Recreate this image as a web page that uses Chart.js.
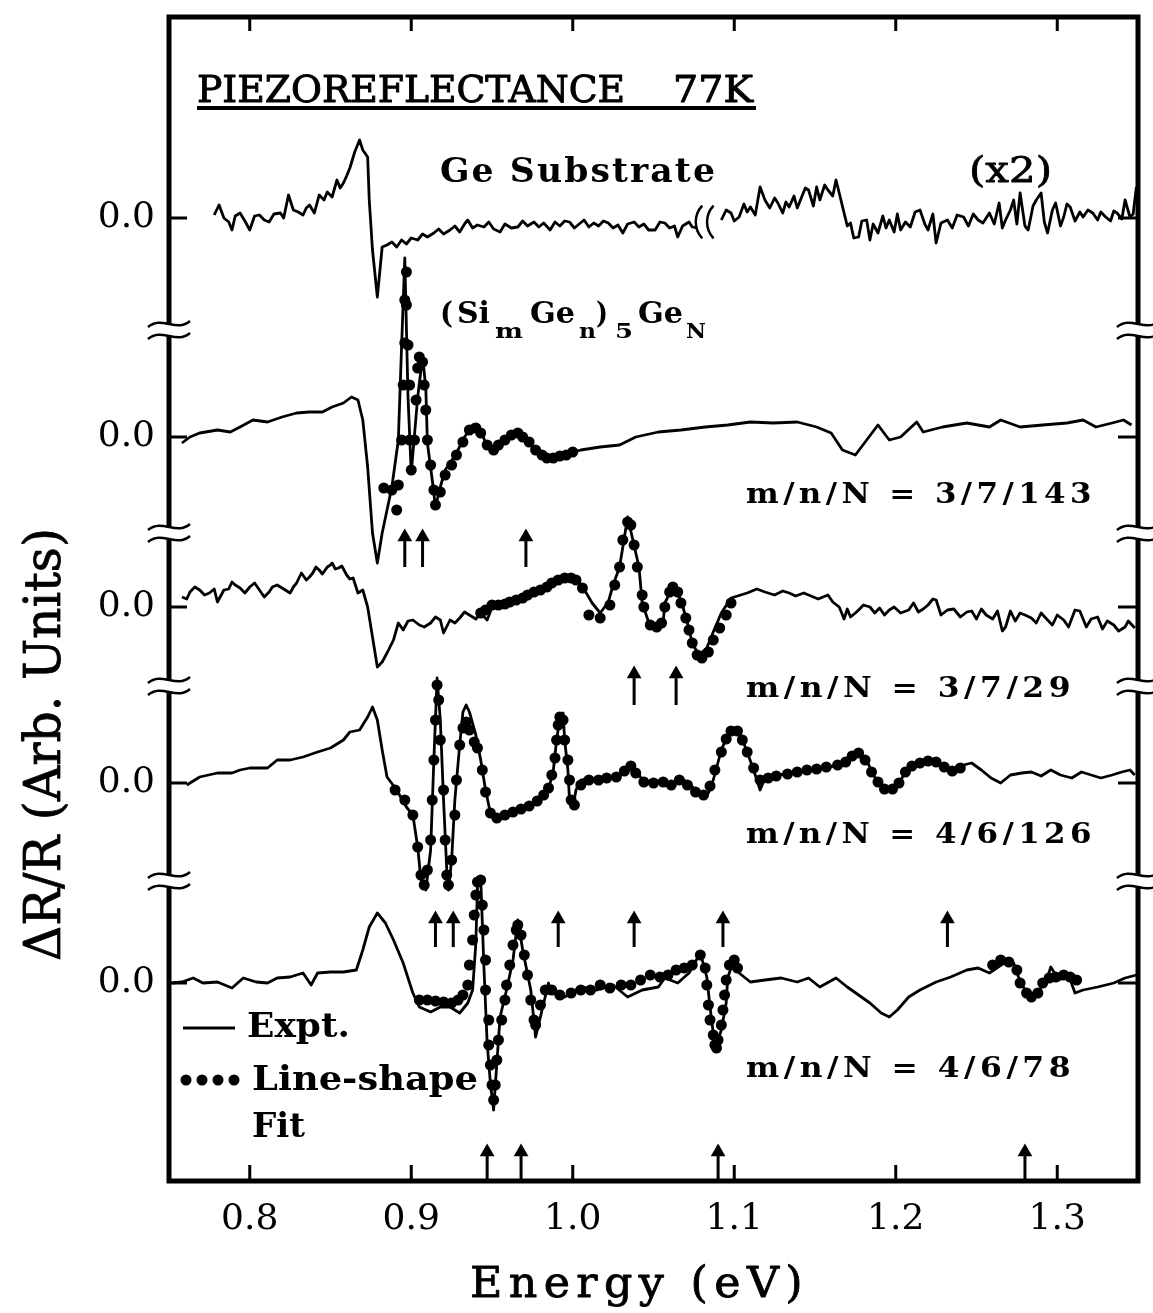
<!DOCTYPE html>
<html><head><meta charset="utf-8">
<script src="https://cdn.jsdelivr.net/npm/chart.js@4.4.1/dist/chart.umd.min.js"></script>
<style>html,body{margin:0;padding:0;background:#fff;}canvas{display:block;}</style>
</head><body>
<canvas id="c" width="1153" height="1313"></canvas>
<script>
// ---------- axis settings ----------
const xTicks = [0.8, 0.9, 1.0, 1.1, 1.2, 1.3];
const offsets = [963, 744, 574, 398, 198];          // zero level of each spectrum (arb. units)
const axisBreaks = [851, 648, 495, 300];            // axis break marks (arb. units)
const subBreakE = [1.0805, 1.0875];                 // break in the Ge substrate trace (eV)

// ---------- Ge substrate (x2) ----------
const s1E = [0.778,0.781,0.784,0.787,0.789,0.791,0.794,0.797,0.800,0.803,0.806,0.809,0.812,0.815,0.819,0.821,0.824,0.827,0.830,0.833,0.835,0.837,0.840,0.843,0.846,0.848,0.851,0.854,0.856,0.858,0.860,0.862,0.865,0.868,0.870,0.873,0.874,0.876,0.879,0.882,0.885,0.888,0.891,0.894,0.897,0.900,0.904,0.907,0.910,0.914,0.917,0.920,0.924,0.927,0.930,0.933,0.935,0.938,0.941,0.945,0.948,0.951,0.955,0.958,0.962,0.966,0.969,0.972,0.976,0.979,0.982,0.986,0.989,0.992,0.995,0.998,1.001,1.004,1.007,1.010,1.013,1.016,1.019,1.022,1.025,1.028,1.031,1.034,1.038,1.041,1.044,1.047,1.051,1.054,1.057,1.060,1.063,1.065,1.068,1.072,1.074,1.077,
  1.085,
  1.092,1.095,1.098,1.100,1.103,1.106,1.108,1.110,1.113,1.116,1.119,1.122,1.125,1.127,1.130,1.132,1.134,1.137,1.139,1.141,1.144,1.146,1.149,1.151,1.153,1.156,1.158,1.161,1.163,1.165,1.168,1.170,1.172,1.174,1.177,1.179,1.182,1.184,1.186,1.189,1.192,1.194,1.196,1.199,1.201,1.203,1.206,1.209,1.212,1.215,1.218,1.220,1.223,1.225,1.228,1.232,1.235,1.238,1.242,1.245,1.248,1.251,1.254,1.258,1.261,1.264,1.266,1.268,1.271,1.273,1.275,1.277,1.280,1.282,1.285,1.287,1.290,1.292,1.294,1.297,1.299,1.302,1.304,1.306,1.308,1.311,1.314,1.316,1.319,1.322,1.325,1.327,1.330,1.333,1.335,1.337,1.340,1.342,1.345,1.347,1.349];
const s1R = [3,13,0,-4,-12,2,5,-3,-12,2,3,-2,-4,4,5,0,23,8,6,3,10,13,5,23,18,26,21,38,30,35,42,50,66,78,68,61,18,-32,-79,-29,-27,-24,-29,-22,-26,-20,-22,-16,-19,-15,-11,-16,-12,-8,-14,-6,-2,-10,-7,-9,-4,-11,-14,-6,-10,-9,-3,-8,-4,-9,-5,-12,-4,-8,-3,-4,-10,-6,-2,-9,-5,-8,-3,-5,-10,-7,-15,-6,-4,-9,-6,-12,-12,-4,-5,-10,-8,-19,-8,-4,-9,-10,
  null,
  -2,8,5,-3,1,14,6,11,3,31,18,10,20,15,5,16,11,22,10,18,30,28,12,31,18,33,28,22,38,25,5,-8,-5,-20,-19,-3,-2,-22,-6,-15,2,-10,-2,-14,4,-12,-4,-9,6,8,-6,-12,4,-25,-5,-2,-10,3,1,-8,4,-2,-5,5,-6,15,-10,-2,8,18,-6,25,-8,-12,12,18,25,-4,-15,8,15,-8,1,14,11,-3,6,1,8,5,-2,6,1,-3,7,5,-1,18,1,4,31];

// ---------- m/n/N = 3/7/143 ----------
const s2E = [0.758,0.763,0.769,0.780,0.788,0.794,0.802,0.811,0.820,0.829,0.837,0.845,0.851,0.858,0.863,0.867,0.870,0.873,0.876,0.879,0.882,0.885,0.888,0.892,0.894,0.896,0.898,0.900,0.904,0.907,0.909,0.910,0.913,0.915,0.918,0.921,0.924,0.928,0.933,0.938,0.943,0.947,0.951,0.957,0.966,0.972,0.978,0.986,0.995,1.005,1.017,1.029,1.039,1.053,1.067,1.082,1.096,1.110,1.124,1.139,1.151,1.160,1.167,1.175,1.182,1.189,1.196,1.203,1.213,1.217,1.229,1.244,1.258,1.265,1.277,1.291,1.306,1.316,1.324,1.334,1.341,1.346];
const s2R = [-6,0,4,7,5,10,17,15,20,24,25,25,30,34,40,37,17,-30,-96,-126,-96,-73,-50,-3,90,179,40,-36,40,80,50,-6,-43,-70,-50,-33,-26,-16,0,12,7,-10,-13,-3,4,-3,-16,-21,-18,-13,-10,-8,0,5,7,10,12,15,14,15,10,4,-13,-18,-3,12,-3,0,15,5,10,14,10,17,10,12,14,17,10,14,17,12];
const f2E = [0.883,0.888,0.891,0.892,0.894,0.895,0.896,0.896,0.897,0.897,0.898,0.899,0.899,0.900,0.902,0.903,0.904,0.905,0.907,0.908,0.909,0.910,0.912,0.914,0.915,0.918,0.921,0.925,0.928,0.932,0.936,0.940,0.943,0.947,0.951,0.954,0.958,0.962,0.966,0.969,0.973,0.977,0.981,0.984,0.988,0.992,0.996,1.000];
const f2R = [-51,-53,-73,-48,-3,52,94,137,165,132,92,52,-3,-33,-3,37,69,80,75,52,27,-3,-28,-53,-68,-55,-38,-28,-18,-5,7,9,4,-8,-13,-8,-3,2,4,0,-5,-13,-18,-21,-21,-19,-18,-15];
const arr2E = [0.896, 0.907, 0.971];

// ---------- m/n/N = 3/7/29 ----------
const s3E = [0.758,0.761,0.763,0.766,0.769,0.772,0.775,0.778,0.780,0.784,0.787,0.789,0.791,0.794,0.797,0.800,0.803,0.806,0.809,0.812,0.814,0.817,0.820,0.823,0.825,0.827,0.829,0.832,0.835,0.837,0.839,0.841,0.843,0.845,0.848,0.850,0.851,0.853,0.855,0.857,0.860,0.862,0.864,0.867,0.870,0.873,0.876,0.879,0.882,0.885,0.889,0.892,0.895,0.898,0.901,0.905,0.908,0.912,0.915,0.918,0.920,0.924,0.927,0.930,0.933,0.936,0.940,0.943,0.947,0.951,0.957,0.963,0.969,0.976,0.982,0.986,0.995,1.003,1.008,1.012,1.017,1.022,1.025,1.029,1.034,1.041,1.043,1.048,1.056,1.057,1.062,1.067,1.071,1.074,1.078,1.083,1.087,1.092,1.098,1.108,1.114,1.119,1.125,1.130,1.134,1.138,1.143,1.149,1.152,1.158,1.161,1.165,1.168,1.170,1.172,1.175,1.177,1.180,1.184,1.187,1.190,1.193,1.196,1.199,1.203,1.208,1.211,1.214,1.217,1.220,1.223,1.225,1.228,1.232,1.236,1.240,1.244,1.247,1.250,1.253,1.256,1.260,1.263,1.266,1.268,1.271,1.274,1.277,1.280,1.284,1.287,1.290,1.294,1.297,1.300,1.304,1.307,1.311,1.314,1.318,1.321,1.325,1.328,1.331,1.335,1.338,1.342,1.344,1.348];
const s3R = [10,8,15,20,17,12,14,18,5,17,18,25,22,19,14,20,24,17,10,15,20,22,19,16,14,20,24,34,27,30,34,40,37,33,40,42,44,38,39,41,32,28,29,14,17,0,-30,-60,-55,-46,-33,-16,-23,-14,-13,-18,-20,-16,-10,-13,-26,-13,-16,-11,-5,-8,-12,-6,-13,4,0,7,10,15,17,25,30,27,15,4,-6,5,22,40,90,40,4,-20,-16,4,20,7,-16,-36,-48,-41,-25,-6,9,14,18,15,12,16,14,11,14,10,8,12,5,0,-12,-2,-10,-6,-3,2,0,-6,-1,-8,-3,0,-6,-3,4,-5,-2,2,8,7,-8,-3,-2,-10,-5,-4,-12,-2,-8,-12,-4,-24,-20,-4,-14,-6,-8,-11,-16,-6,-13,-18,-8,-13,-20,-3,-4,-20,-12,-10,-22,-14,-18,-24,-20,-14,-21];
const f3E = [0.943,0.946,0.950,0.954,0.958,0.961,0.965,0.969,0.972,0.976,0.980,0.984,0.987,0.991,0.995,0.999,1.002,1.006,1.010,1.017,1.023,1.026,1.029,1.031,1.034,1.036,1.038,1.040,1.043,1.044,1.048,1.052,1.055,1.057,1.060,1.062,1.065,1.067,1.070,1.072,1.074,1.077,1.080,1.084,1.087,1.091,1.095,1.098];
const f3R = [-6,-3,2,2,3,5,7,9,12,15,17,20,24,27,29,29,27,19,-8,-11,2,22,40,67,85,82,62,40,12,0,-18,-20,-16,0,15,20,15,4,-11,-23,-36,-48,-51,-45,-33,-21,-8,4];
const arr3E = [1.038, 1.064];

// ---------- m/n/N = 4/6/126 ----------
const s4E = [0.761,0.769,0.780,0.789,0.794,0.800,0.811,0.817,0.825,0.833,0.842,0.850,0.858,0.862,0.868,0.873,0.876,0.879,0.882,0.885,0.891,0.897,0.901,0.904,0.906,0.909,0.912,0.914,0.916,0.918,0.920,0.922,0.923,0.925,0.927,0.930,0.932,0.934,0.936,0.940,0.943,0.946,0.949,0.953,0.957,0.961,0.966,0.972,0.977,0.981,0.985,0.988,0.990,0.992,0.994,0.995,0.997,0.998,1.000,1.002,1.005,1.011,1.017,1.023,1.030,1.036,1.039,1.044,1.048,1.053,1.061,1.067,1.073,1.079,1.084,1.087,1.092,1.096,1.100,1.104,1.108,1.112,1.116,1.119,1.127,1.141,1.154,1.166,1.172,1.177,1.182,1.186,1.191,1.195,1.200,1.205,1.213,1.220,1.226,1.232,1.237,1.242,1.247,1.253,1.259,1.265,1.271,1.278,1.284,1.290,1.296,1.302,1.309,1.315,1.321,1.327,1.334,1.340,1.345,1.348];
const s4R = [-2,6,10,10,13,15,15,23,23,26,31,35,43,51,53,66,76,63,33,6,-7,-24,-32,-64,-97,-107,-67,23,105,63,-17,-87,-107,-77,-17,38,71,78,71,48,23,-7,-30,-35,-32,-29,-27,-25,-20,-14,-7,13,43,65,70,43,13,-17,-25,-7,3,5,3,5,8,20,13,1,0,1,-4,5,-2,-12,-10,3,33,48,55,48,31,13,-7,5,8,11,15,18,23,31,23,8,-2,-7,-5,8,18,23,21,13,10,18,20,13,5,0,8,10,11,7,13,8,5,11,8,5,8,11,13,8];
const f4E = [0.890,0.896,0.901,0.904,0.906,0.908,0.910,0.912,0.913,0.914,0.915,0.916,0.917,0.918,0.920,0.921,0.922,0.923,0.925,0.927,0.928,0.930,0.932,0.934,0.936,0.939,0.941,0.944,0.946,0.949,0.953,0.958,0.963,0.968,0.973,0.978,0.982,0.985,0.987,0.989,0.990,0.991,0.992,0.994,0.995,0.997,0.998,0.999,1.001,1.005,1.010,1.016,1.021,1.027,1.032,1.036,1.039,1.044,1.050,1.056,1.061,1.066,1.071,1.076,1.081,1.085,1.088,1.092,1.095,1.098,1.102,1.105,1.108,1.112,1.116,1.121,1.126,1.133,1.139,1.145,1.151,1.157,1.164,1.169,1.173,1.177,1.181,1.185,1.189,1.193,1.198,1.202,1.206,1.210,1.215,1.220,1.225,1.230,1.235,1.240];
const f4R = [-7,-17,-32,-64,-92,-102,-87,-57,-17,23,63,98,83,43,-7,-57,-92,-102,-77,-32,3,38,55,61,53,41,35,13,-9,-30,-35,-32,-29,-26,-23,-18,-12,-5,8,25,43,58,66,63,43,23,3,-17,-22,-2,3,3,5,6,12,17,10,1,0,1,-2,3,-2,-9,-12,-3,13,31,44,52,52,43,31,15,3,5,7,9,11,13,14,16,18,21,27,30,23,11,1,-6,-6,0,11,17,20,22,21,16,12,15];
const arr4E = [0.915, 0.926, 0.991, 1.038, 1.093, 1.232];

// ---------- m/n/N = 4/6/78 ----------
const s5E = [0.752,0.758,0.765,0.771,0.780,0.789,0.796,0.804,0.811,0.817,0.825,0.833,0.838,0.842,0.850,0.858,0.866,0.870,0.874,0.879,0.884,0.889,0.895,0.901,0.905,0.912,0.918,0.924,0.930,0.935,0.938,0.940,0.941,0.943,0.945,0.947,0.949,0.951,0.953,0.955,0.959,0.963,0.966,0.969,0.974,0.977,0.981,0.985,0.986,0.995,1.005,1.015,1.025,1.034,1.043,1.053,1.057,1.065,1.072,1.079,1.083,1.085,1.087,1.088,1.092,1.095,1.096,1.100,1.103,1.110,1.119,1.129,1.139,1.146,1.153,1.163,1.170,1.177,1.184,1.191,1.196,1.201,1.208,1.215,1.225,1.234,1.244,1.251,1.258,1.268,1.273,1.276,1.280,1.284,1.289,1.294,1.296,1.301,1.307,1.311,1.316,1.325,1.335,1.342,1.349];
const s5R = [0,1,5,0,1,-5,5,1,0,5,6,10,-2,10,11,11,13,33,56,70,60,43,20,-10,-24,-29,-24,-24,-30,-20,-7,40,96,105,16,-60,-100,-127,-80,-34,-7,23,63,33,-7,-54,-27,0,-7,-14,-4,-7,-2,-14,-7,-4,5,0,10,30,6,-24,-50,-67,-47,-20,6,23,10,1,3,5,1,5,-4,5,-4,-12,-20,-30,-34,-27,-14,-7,1,6,13,15,10,21,20,6,-7,-14,-7,6,16,3,8,-10,-7,-4,0,5,8];
const f5E = [0.905,0.910,0.915,0.920,0.925,0.929,0.932,0.935,0.936,0.938,0.939,0.940,0.941,0.943,0.944,0.945,0.946,0.946,0.948,0.948,0.949,0.950,0.951,0.952,0.953,0.954,0.956,0.958,0.959,0.961,0.963,0.965,0.966,0.968,0.970,0.972,0.974,0.976,0.977,0.980,0.983,0.987,0.992,0.999,1.005,1.011,1.017,1.023,1.030,1.036,1.042,1.048,1.054,1.059,1.064,1.069,1.074,
  1.079,1.082,1.083,1.084,1.085,1.087,1.088,1.089,1.090,1.092,1.093,1.094,1.095,1.097,1.100,1.102,
  1.260,1.265,1.270,1.275,1.277,1.281,1.284,1.288,1.291,1.295,1.299,1.304,1.308,1.312];
const f5R = [-17,-17,-18,-19,-20,-17,-12,-2,18,43,68,88,101,103,78,53,23,-7,-37,-62,-82,-102,-117,-102,-77,-57,-37,-17,-2,18,38,53,58,48,28,8,-17,-37,-42,-22,-7,-7,-12,-10,-7,-7,-2,-5,-2,-2,3,8,6,8,13,15,18,
  28,15,-2,-22,-37,-52,-62,-65,-57,-42,-27,-12,3,18,23,15,
  18,23,21,13,0,-10,-14,-10,0,5,6,8,6,3];
const arr5E = [0.947, 0.968, 1.090, 1.280];

const arrowSets = [arr2E, arr3E, arr4E, arr5E];
const arrowHead = [653, 516, 271, 38];
const arrowTail = [614, 476, 234, 0];

const seriesLabels = ['m/n/N = 3/7/143', 'm/n/N = 3/7/29', 'm/n/N = 4/6/126', 'm/n/N = 4/6/78'];

// ---------- build datasets ----------
function pts(E, R, off) { return E.map((e, i) => ({ x: e, y: R[i] === null ? null : off + R[i] })); }
const lines = [[s1E, s1R], [s2E, s2R], [s3E, s3R], [s4E, s4R], [s5E, s5R]];
const fits = [null, [f2E, f2R], [f3E, f3R], [f4E, f4R], [f5E, f5R]];
const datasets = [];
lines.forEach((l, k) => datasets.push({
  label: 'expt' + k, data: pts(l[0], l[1], offsets[k]), showLine: true, spanGaps: false,
  borderColor: '#000', borderWidth: 2.8, pointRadius: 0, tension: 0, borderJoinStyle: 'round'
}));
fits.forEach((f, k) => { if (!f) return; datasets.push({
  label: 'fit' + k, data: pts(f[0], f[1], offsets[k]), showLine: false,
  pointRadius: 5.5, pointBackgroundColor: '#000', pointBorderColor: '#000', pointBorderWidth: 0
}); });
const shaft = [], heads = [];
arrowSets.forEach((set, k) => set.forEach(e => {
  shaft.push({ x: e, y: arrowTail[k] }, { x: e, y: arrowHead[k] - 9 }, { x: e, y: null });
  heads.push({ x: e, y: arrowHead[k] - 9 });
}));
datasets.push({ label: 'arrows', data: shaft, showLine: true, spanGaps: false, borderColor: '#000', borderWidth: 3, pointRadius: 0 });
datasets.push({ label: 'arrowheads', data: heads, showLine: false, pointStyle: 'triangle', pointRadius: 8.5,
  pointBackgroundColor: '#000', pointBorderColor: '#000', pointBorderWidth: 0 });

// ---------- text helpers ----------
function fitText(ctx, text, left, base, width, font, spacing, stroke) {
  ctx.save();
  ctx.font = font;
  if ('letterSpacing' in ctx) ctx.letterSpacing = (spacing || 0) + 'px';
  ctx.textAlign = 'left'; ctx.textBaseline = 'alphabetic';
  const w = ctx.measureText(text).width;
  ctx.translate(left, base);
  ctx.scale(width / w, 1);
  ctx.fillText(text, 0, 0);
  if (stroke) { ctx.lineWidth = stroke; ctx.strokeStyle = '#000'; ctx.lineJoin = 'round'; ctx.strokeText(text, 0, 0); }
  ctx.restore();
}

const deco = {
  id: 'deco',
  afterDraw(chart) {
    const { ctx, chartArea: a, scales: { x, y } } = chart;
    ctx.save();
    ctx.strokeStyle = '#000'; ctx.fillStyle = '#000';
    const seg = (x1, y1, x2, y2) => { ctx.beginPath(); ctx.moveTo(x1, y1); ctx.lineTo(x2, y2); ctx.stroke(); };
    // frame
    ctx.lineWidth = 5; ctx.lineCap = 'square';
    ctx.strokeRect(a.left, a.top, a.right - a.left, a.bottom - a.top);
    ctx.lineCap = 'butt';
    // inward ticks
    ctx.lineWidth = 3;
    xTicks.forEach(v => { const px = x.getPixelForValue(v); seg(px, a.bottom, px, a.bottom - 16); seg(px, a.top, px, a.top + 14); });
    offsets.forEach(v => { const py = y.getPixelForValue(v); seg(a.left, py, a.left + 18, py); seg(a.right, py, a.right - 20, py); });
    // axis breaks
    axisBreaks.forEach(v => {
      const py = y.getPixelForValue(v);
      [a.left, a.right].forEach(x0 => {
        ctx.fillStyle = '#fff'; ctx.fillRect(x0 - 4, py - 6, 8, 12);
        ctx.strokeStyle = '#000'; ctx.lineWidth = 2.5;
        [-6, 6].forEach(dy => {
          ctx.beginPath(); ctx.moveTo(x0 - 21, py + dy + 3);
          ctx.bezierCurveTo(x0 - 7, py + dy - 9, x0 + 7, py + dy + 9, x0 + 21, py + dy - 3);
          ctx.stroke();
        });
      });
    });
    ctx.fillStyle = '#000';
    // break in Ge substrate trace
    ctx.lineWidth = 2.5;
    subBreakE.forEach(e => {
      const px = x.getPixelForValue(e), py = y.getPixelForValue(offsets[0] - 4);
      ctx.beginPath(); ctx.arc(px + 17, py, 24, Math.PI * 0.76, Math.PI * 1.24); ctx.stroke();
    });
    // texts
    const serif = '"DejaVu Serif", "Liberation Serif", serif';
    fitText(ctx, 'PIEZOREFLECTANCE', 197, 102, 428, '38px ' + serif, 0, 1);
    fitText(ctx, '77K', 673, 102, 80, '38px ' + serif, 0, 1);
    ctx.fillRect(197, 106, 559, 4);
    fitText(ctx, 'Ge Substrate', 440, 182, 277, 'bold 33px ' + serif, 2);
    fitText(ctx, '(x2)', 969, 182, 83, '35px ' + serif, 0, 0.8);
    // (Si_m Ge_n)_5 Ge_N
    const big = 'bold 29px ' + serif, small = 'bold 20px ' + serif;
    fitText(ctx, '(', 440, 323, 13, big);
    fitText(ctx, 'Si', 457, 323, 33, big);
    fitText(ctx, 'm', 495, 338, 28, small);
    fitText(ctx, 'Ge', 530, 323, 45, big);
    fitText(ctx, 'n', 579, 338, 17, small);
    fitText(ctx, ')', 596, 323, 12, big);
    fitText(ctx, '5', 615, 338, 18, small);
    fitText(ctx, 'Ge', 638, 323, 45, big);
    fitText(ctx, 'N', 686, 338, 20, small);
    // series labels
    const lab = [[746, 503, 350], [746, 697, 329], [746, 843, 350], [746, 1077, 329]];
    seriesLabels.forEach((t, i) => fitText(ctx, t, lab[i][0], lab[i][1], lab[i][2], 'bold 28px ' + serif, 4));
    // legend
    ctx.lineWidth = 3; seg(183, 1028, 235, 1028);
    [186, 202, 218, 234].forEach(px => { ctx.beginPath(); ctx.arc(px, 1080, 5.5, 0, Math.PI * 2); ctx.fill(); });
    fitText(ctx, 'Expt.', 247, 1037, 103, 'bold 33px ' + serif);
    fitText(ctx, 'Line-shape', 252, 1090, 226, 'bold 33px ' + serif);
    fitText(ctx, 'Fit', 252, 1137, 53, 'bold 33px ' + serif);
    // axis titles
    fitText(ctx, 'Energy (eV)', 470, 1297, 339, '42px ' + serif, 6, 0.8);
    ctx.save();
    ctx.translate(60, 961); ctx.rotate(-Math.PI / 2);
    fitText(ctx, 'ΔR/R (Arb. Units)', 0, 0, 433, '50px ' + serif, 0, 0.8);
    ctx.restore();
    ctx.restore();
  }
};

new Chart(document.getElementById('c'), {
  type: 'scatter',
  data: { datasets },
  options: {
    responsive: false, animation: false, devicePixelRatio: 1,
    layout: { padding: { left: 0, right: 15, top: 17, bottom: 0 } },
    plugins: { legend: { display: false }, tooltip: { enabled: false } },
    scales: {
      x: {
        type: 'linear', min: 0.75, max: 1.35,
        afterBuildTicks: s => { s.ticks = xTicks.map(v => ({ value: v })); },
        afterFit: s => { s.height = 132; s.paddingLeft = 0; s.paddingRight = 0; },
        grid: { display: false, drawTicks: false }, border: { display: false },
        ticks: { autoSkip: false, maxRotation: 0, padding: 17, color: '#000',
          font: { family: 'DejaVu Serif', size: 36 }, callback: v => Number(v).toFixed(1) }
      },
      y: {
        type: 'linear', min: 0, max: 1164,
        afterBuildTicks: s => { s.ticks = offsets.map(v => ({ value: v })); },
        afterFit: s => { s.width = 169; s.paddingTop = 0; s.paddingBottom = 0; },
        grid: { display: false, drawTicks: false }, border: { display: false },
        ticks: { autoSkip: false, padding: 14, color: '#000',
          font: { family: 'DejaVu Serif', size: 36 }, callback: () => '0.0' }
      }
    }
  },
  plugins: [deco]
});
</script>
</body></html>
